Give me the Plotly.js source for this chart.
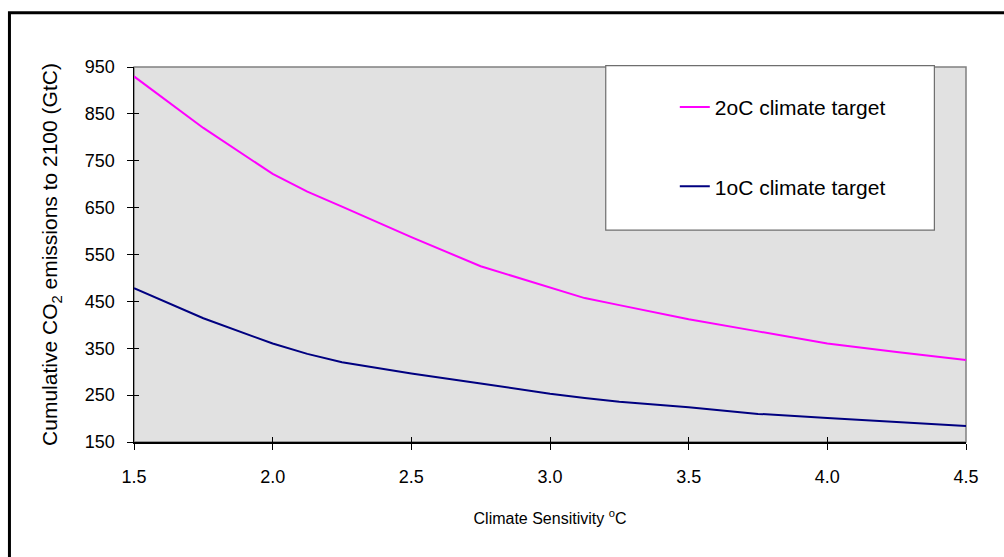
<!DOCTYPE html>
<html>
<head>
<meta charset="utf-8">
<script src="https://cdn.plot.ly/plotly-3.0.1.min.js"></script>
<style>html,body{margin:0;padding:0;background:#fff;}#chart{width:1004px;height:557px;}</style>
</head>
<body>
<div id="chart"></div>
<script>
// Climate sensitivity (°C)
const sensitivity = [1.5, 1.75, 2.0, 2.125, 2.25, 2.5, 2.75, 3.0, 3.125, 3.25, 3.5, 3.75, 4.0, 4.25, 4.5];
// Cumulative CO2 emissions to 2100 (GtC)
const target2C = [930, 820, 722, 684, 652, 587, 525, 480, 457, 442, 412, 386, 360, 342, 325];
const target1C = [478, 414, 360, 338, 320, 296, 275, 253, 244, 236, 224, 210, 201, 193, 184];
const seriesNames = ["2oC climate target", "1oC climate target"];
const yTicks = [150, 250, 350, 450, 550, 650, 750, 850, 950];
const xTicks = [1.5, 2.0, 2.5, 3.0, 3.5, 4.0, 4.5];

const FONT = "Liberation Sans, Arial, sans-serif";

const traces = [
  {x: sensitivity, y: target2C, name: seriesNames[0], type: "scatter", mode: "lines",
   line: {color: "#ff00ff", width: 2}, legendgroup: "a"},
  {x: sensitivity, y: target1C, name: seriesNames[1], type: "scatter", mode: "lines",
   line: {color: "#000080", width: 2}, legendgroup: "b"},
  // invisible trace to carry the inside half of the crossing tick marks
  {x: [sensitivity[0]], y: [target1C[0]], xaxis: "x2", yaxis: "y2", mode: "markers",
   marker: {opacity: 0}, showlegend: false, hoverinfo: "skip"}
];

const xr = [1.5, 4.5], yr = [150, 950];

const layout = {
  width: 1004, height: 557,
  margin: {l: 134, r: 38, t: 67, b: 115},
  paper_bgcolor: "#ffffff",
  plot_bgcolor: "#e1e1e1",
  font: {family: FONT, size: 18, color: "#000"},
  showlegend: true,
  legend: {
    x: 0.65, y: 0.947, xanchor: "left", yanchor: "top",
    bgcolor: "rgba(0,0,0,0)", borderwidth: 0,
    traceorder: "grouped", tracegroupgap: 49,
    font: {family: FONT, size: 21, color: "#000"}
  },
  xaxis: {
    range: xr, tickvals: xTicks, ticktext: xTicks.map(v => v.toFixed(1)),
    showgrid: false, zeroline: false, showline: true, linecolor: "#000", linewidth: 1.5,
    ticks: "outside", ticklen: 6, tickcolor: "#000", tickwidth: 1,
    ticklabelstandoff: 12,
    tickfont: {family: FONT, size: 18},
    title: {text: "Climate Sensitivity <sup>o</sup>C", font: {family: FONT, size: 16}, standoff: 26}
  },
  yaxis: {
    range: yr, tickvals: yTicks,
    showgrid: false, zeroline: false, showline: true, linecolor: "#000", linewidth: 1.5,
    ticks: "outside", ticklen: 6, tickcolor: "#000", tickwidth: 1,
    ticklabelstandoff: 8,
    tickfont: {family: FONT, size: 18},
    title: {text: "Cumulative CO<sub>2</sub> emissions to 2100 (GtC)", font: {family: FONT, size: 21}, standoff: 21}
  },
  xaxis2: {range: xr, overlaying: "x", tickvals: xTicks, showticklabels: false, ticks: "inside",
           ticklen: 5, tickcolor: "#000", showgrid: false, zeroline: false, showline: false},
  yaxis2: {range: yr, overlaying: "y", tickvals: yTicks, showticklabels: false, ticks: "inside",
           ticklen: 5, tickcolor: "#000", showgrid: false, zeroline: false, showline: false},
  shapes: [
    // plot area outline (grey top/right)
    {type: "rect", xref: "paper", yref: "paper", x0: 0, x1: 1, y0: 0, y1: 1,
     line: {color: "#808080", width: 1.5}, layer: "below"},
    // legend box
    {type: "rect", xref: "paper", yref: "paper", x0: 0.567, x1: 0.962, y0: 0.565, y1: 1.0035,
     fillcolor: "#ffffff", line: {color: "#6e6e6e", width: 1.2}, layer: "below"},
    // outer chart frame
    {type: "rect", xref: "paper", yref: "paper", x0: -0.1497, x1: 1.052, y0: -0.32, y1: 1.1445,
     line: {color: "#000", width: 3}, layer: "above"}
  ]
};

Plotly.newPlot("chart", traces, layout, {displayModeBar: false, staticPlot: true});
</script>
</body>
</html>
